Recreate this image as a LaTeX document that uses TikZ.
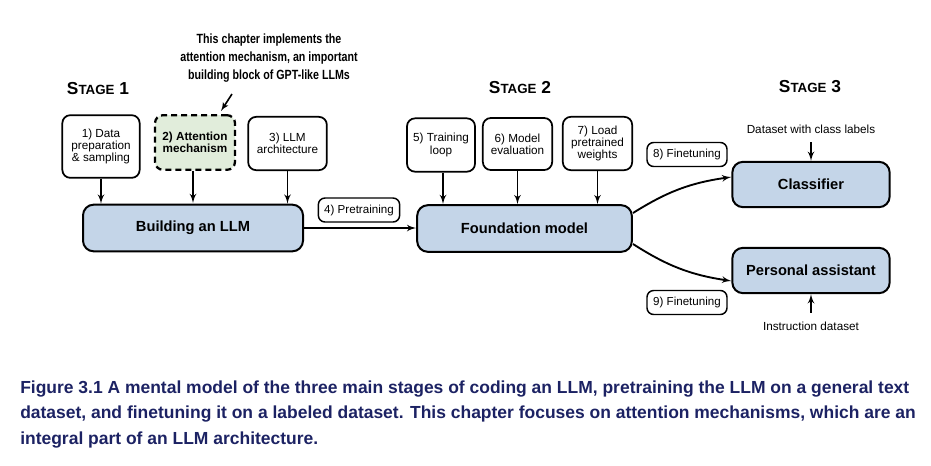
\documentclass[tikz,border=0pt]{standalone}
\usepackage{fontspec}
\setmainfont{Liberation Sans}
\newfontfamily\notefont[FakeStretch=0.8]{Liberation Sans}
\newfontfamily\capfont{Liberation Sans}
\usepackage{xcolor}
\usepackage{tikz}
\usetikzlibrary{shapes,arrows,positioning,calc}

\definecolor{llmblue}{HTML}{C4D5E8}
\definecolor{notegreen}{HTML}{E1EDDB}
\definecolor{capnavy}{HTML}{1C2263}

\newcommand{\stagename}[1]{{\bfseries\fontsize{13}{13}\selectfont S\fontsize{10}{10}\selectfont TAGE\fontsize{13}{13}\selectfont{} #1}}

\begin{document}
\begin{tikzpicture}[x=0.75pt, y=-0.75pt, >=latex']
    \tikzstyle{task} = [rectangle, draw=black, line width=1.3pt, fill=white, rounded corners=6pt, align=center, inner sep=0pt, font=\fontsize{8.8}{9.2}\selectfont]
    \tikzstyle{stagebox} = [rectangle, draw=black, line width=1.5pt, fill=llmblue, rounded corners=8pt, inner sep=0pt, font=\fontsize{11}{11}\selectfont\bfseries]
    \tikzstyle{tag} = [rectangle, draw=black, line width=1.1pt, fill=white, rounded corners=5pt, inner sep=0pt, minimum height=18pt, font=\fontsize{8.7}{8.7}\selectfont]
    \tikzstyle{note} = [font=\fontsize{8.8}{8.8}\selectfont]
    \tikzstyle{arrow} = [draw, -latex', line width=1.4pt]

    \useasboundingbox (0,0) rectangle (931,465);

    % stage titles
    \node (s1) at (98,89) {\stagename{1}};
    \node (s2) at (520,88) {\stagename{2}};
    \node (s3) at (810,87) {\stagename{3}};

    % stage 1
    \node [stagebox, minimum width=165pt, minimum height=35pt] (llm) at (193,228) {Building an LLM};
    \node [task, minimum width=58pt, minimum height=47pt] (data) at (101,146.5) {1) Data\\preparation\\\& sampling};
    \node [task, fill=notegreen, dash pattern=on 4.5pt off 3pt, line width=1.7pt, minimum width=60pt, minimum height=41pt, font=\fontsize{8.8}{9.4}\selectfont\bfseries] (attn) at (195,142.5) {2) Attention\\mechanism};
    \node [task, minimum width=59pt, minimum height=40pt] (arch) at (287.5,143.5) {3) LLM\\architecture};
    \node [align=center, font=\notefont\bfseries\fontsize{10}{13.3}\selectfont] (info) at (269,58) {This chapter implements the\\attention mechanism, an important\\building block of GPT-like LLMs};
    \coordinate (infoend) at (232,94);
    \coordinate (infotip) at (221,111);

    \draw [arrow, line width=1.2pt] (infoend) -- (infotip);
    \draw [arrow] (data.south) -- (data.south |- llm.north);
    \draw [arrow] (attn.south -| 193,0) -- (193,203);
    \draw [arrow] (arch.south) -- (arch.south |- llm.north);

    % stage 2
    \node [stagebox, minimum width=161pt, minimum height=35pt] (found) at (524.5,228.5) {Foundation model};
    \node [tag, minimum width=61pt] (pre) at (359,210) {4) Pretraining};
    \node [task, minimum width=51pt, minimum height=40pt] (loop) at (441,145) {5) Training\\loop};
    \node [task, minimum width=52pt, minimum height=39pt] (eval) at (517.5,144) {6) Model\\evaluation};
    \node [task, minimum width=52pt, minimum height=40pt] (load) at (597.5,143.5) {7) Load\\pretrained\\weights};

    \draw [arrow] (llm.east |- 0,228) -- (found.west |- 0,228);
    \draw [arrow] (loop.south -| 443,0) -- (443,204);
    \draw [arrow] (eval.south) -- (eval.south |- found.north);
    \draw [arrow] (load.south) -- (load.south |- found.north);

    % stage 3
    \node [stagebox, minimum width=118pt, minimum height=34pt] (cls) at (811,184.5) {Classifier};
    \node [stagebox, minimum width=118pt, minimum height=34pt] (assist) at (811,270.5) {Personal assistant};
    \node [tag, minimum width=60pt] (ft8) at (687,154.5) {8) Finetuning};
    \node [tag, minimum width=60pt] (ft9) at (687,302.5) {9) Finetuning};
    \node [note, above=17pt of cls] (clsdata) {Dataset with class labels};
    \node [note, below=17pt of assist] (instdata) {Instruction dataset};

    \draw [arrow] (633,213) to[bend left=12] (cls.west |- 0,177);
    \draw [arrow] (633,244) to[bend right=12] (assist.west |- 0,281);
    \draw [arrow] ([yshift=-3pt]clsdata.south) -- (cls.north);
    \draw [arrow] ([yshift=3pt]instdata.north) -- (assist.south);

    % caption
    \node [anchor=north west, align=left, text=capnavy, font=\capfont\bfseries\fontsize{13.1}{18.8}\selectfont, inner sep=0pt] (caption) at (20,381) {Figure 3.1 A mental model of the three main stages of coding an LLM, pretraining the LLM on a general text\\dataset, and finetuning it on a labeled dataset. This chapter focuses on attention mechanisms, which are an\\integral part of an LLM architecture.};
\end{tikzpicture}
\end{document}
